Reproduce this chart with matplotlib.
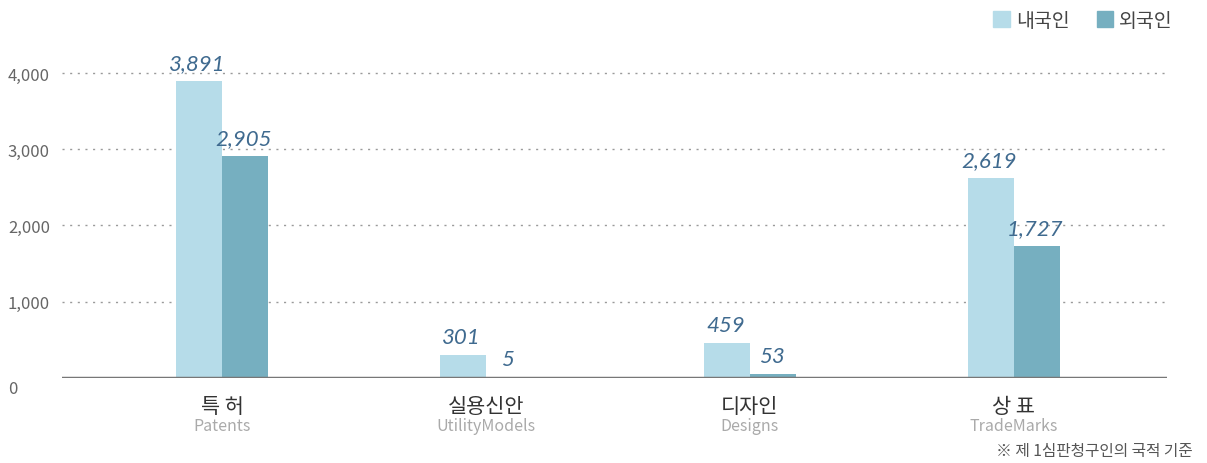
import numpy as np
import matplotlib.pyplot as plt
from matplotlib.transforms import ScaledTranslation
from matplotlib.patches import Patch

plt.rcParams['font.family'] = ['Noto Sans CJK KR', 'DejaVu Sans']

categories_kr = ['특 허', '실용신안', '디자인', '상 표']
categories_en = ['Patents', 'UtilityModels', 'Designs', 'TradeMarks']
domestic = [3891, 301, 459, 2619]
foreign = [2905, 5, 53, 1727]
series_names = ['내국인', '외국인']
yticks = [0, 1000, 2000, 3000, 4000]

light_color = '#b6dce9'
dark_color = '#76afc0'
value_color = '#3f6a8f'

fig = plt.figure(figsize=(12.07, 4.64), dpi=100)
ax = fig.add_axes([62 / 1207, 1 - 379 / 464, (1167 - 62) / 1207, (379 - 55) / 464])

x = np.arange(len(categories_kr))
w = 0.174
b1 = ax.bar(x - w / 2, domestic, w, color=light_color, zorder=3)
b2 = ax.bar(x + w / 2, foreign, w, color=dark_color, zorder=3)

for bars, vals in [(b1, domestic), (b2, foreign)]:
    for rect, v in zip(bars, vals):
        ax.annotate(f'{v:,}', (rect.get_x() + rect.get_width() / 2, v),
                    xytext=(-1, 6), textcoords='offset points',
                    ha='center', va='bottom', fontsize=16, style='italic',
                    family=['Lato', 'DejaVu Sans'], color=value_color, zorder=4)

ax.set_xlim(-0.606, 3.58)
ax.set_ylim(0, 4249)

for s in ax.spines.values():
    s.set_visible(False)
for t in yticks[1:]:
    ax.axhline(t, color='#9a9a9a', lw=1, linestyle=(0, (1.5, 4)), zorder=1)
ax.axhline(0, color='#777777', lw=2.5, zorder=5)

ax.set_yticks(yticks)
ax.set_yticklabels([f'{t:,}' for t in yticks])
ax.tick_params(axis='y', length=0, pad=39, labelsize=12, labelcolor='#666666')
for lbl in ax.get_yticklabels():
    lbl.set_horizontalalignment('left')
ax.get_yticklabels()[0].set_transform(
    ax.get_yticklabels()[0].get_transform() + ScaledTranslation(0, -0.09, fig.dpi_scale_trans))
ax.set_xticks([])

trans = ax.get_xaxis_transform()
for xi, kr, en in zip(x, categories_kr, categories_en):
    ax.annotate(kr, (xi, 0), xycoords=trans, xytext=(0, -20), textcoords='offset points',
                ha='center', va='center', fontsize=15, color='#333333', fontweight='medium')
    ax.annotate(en, (xi, 0), xycoords=trans, xytext=(0, -34), textcoords='offset points',
                ha='center', va='center', fontsize=11.5, color='#aaaaaa')

fig.text(1193 / 1207, 1 - 452 / 464, '※ 제 1심판청구인의 국적 기준', ha='right', va='center',
         fontsize=11.3, color='#555555')

handles = [Patch(color=light_color), Patch(color=dark_color)]
fig.legend(handles, series_names, loc='upper right', bbox_to_anchor=(1190 / 1207, 1.015),
           ncol=2, frameon=False, fontsize=14, handlelength=0.85, handleheight=0.85,
           handletextpad=0.3, columnspacing=1.4, labelcolor='#444444')

fig.savefig('out.png', dpi=100)
